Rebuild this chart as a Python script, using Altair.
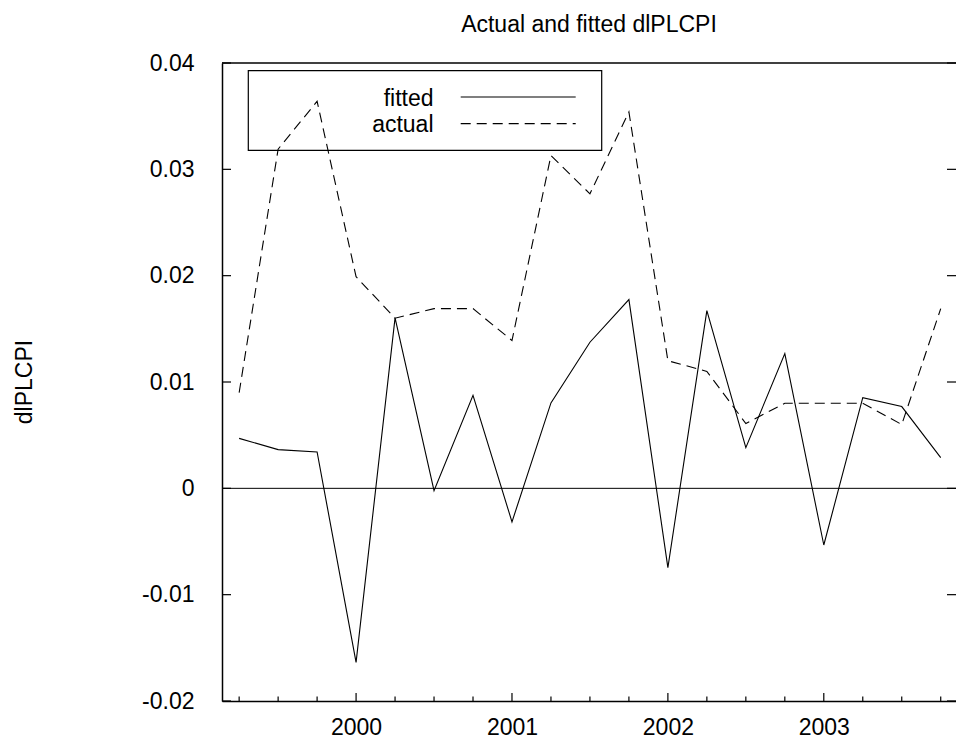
import altair as alt
import pandas as pd

# Quarterly sample 1999:2 - 2003:4, as decimal dates
periods = [1999.25, 1999.50, 1999.75,
           2000.00, 2000.25, 2000.50, 2000.75,
           2001.00, 2001.25, 2001.50, 2001.75,
           2002.00, 2002.25, 2002.50, 2002.75,
           2003.00, 2003.25, 2003.50, 2003.75]

fitted = [0.00470, 0.00364, 0.00342,
          -0.01637, 0.01603, -0.00022, 0.00875,
          -0.00316, 0.00803, 0.01374, 0.01775,
          -0.00746, 0.01672, 0.00383, 0.01267,
          -0.00533, 0.00853, 0.00769, 0.00289]

actual = [0.0090, 0.0319, 0.0364,
          0.0199, 0.0160, 0.0169, 0.0169,
          0.0139, 0.0313, 0.0277, 0.0354,
          0.0120, 0.0110, 0.0061, 0.0080,
          0.0080, 0.0080, 0.0060, 0.0169]

y_ticks = [-0.02, -0.01, 0.0, 0.01, 0.02, 0.03, 0.04]
year_ticks = [2000, 2001, 2002, 2003]
quarter_ticks = [1999.25, 1999.50, 1999.75,
                 2000.25, 2000.50, 2000.75,
                 2001.25, 2001.50, 2001.75,
                 2002.25, 2002.50, 2002.75,
                 2003.25, 2003.50, 2003.75]

W, H = 734, 638
FONT = "Liberation Sans"
FS = 23

fit_df = pd.DataFrame({"t": periods, "value": fitted})
act_df = pd.DataFrame({"t": periods, "value": actual})

x_scale = alt.Scale(domain=[1999.14, 2003.848], nice=False, zero=False)
y_scale = alt.Scale(domain=[-0.02, 0.04], nice=False, zero=False)

x_axis = alt.Axis(values=year_ticks, format="d", ticks=False, tickSize=0, grid=False,
                  labelPadding=15, domainColor="black", domainWidth=1.5,
                  labelFont=FONT, labelFontSize=FS, labelColor="black",
                  labelFlush=False, labelOverlap=False, labelBound=False)
y_axis = alt.Axis(values=y_ticks, ticks=False, tickSize=0, grid=False,
                  labelExpr="datum.value == 0 ? '0' : (datum.value < 0 ? '-' + format(-datum.value, '.2f') : format(datum.value, '.2f'))",
                  labelPadding=28, domainColor="black", domainWidth=1.5,
                  labelFont=FONT, labelFontSize=FS, labelColor="black",
                  labelFlush=False, labelOverlap=False, labelBound=False)


def xq(field):
    return alt.X(field, scale=x_scale, axis=x_axis, title=None)


def yq(field):
    return alt.Y(field, scale=y_scale, axis=y_axis, title=None)


# Series lines
fitted_line = alt.Chart(fit_df).mark_line(color="black", strokeWidth=1.1).encode(
    x=xq("t:Q"), y=yq("value:Q")
)
actual_line = alt.Chart(act_df).mark_line(color="black", strokeWidth=1.1, strokeDash=[10, 6]).encode(
    x=xq("t:Q"), y=yq("value:Q")
)

# Zero reference line
zero_line = alt.Chart(pd.DataFrame({"v": [0.0]})).mark_rule(color="black", strokeWidth=1).encode(
    y=yq("v:Q")
)

# Top frame edge
one = pd.DataFrame({"k": [0]})
top_edge = alt.Chart(one).mark_rule(color="black", strokeWidth=1.5).encode(
    x=alt.value(0), x2=alt.value(W), y=alt.value(0)
)

# Inward ticks: y on both sides, years and quarters along the bottom
ytick_df = pd.DataFrame({"v": y_ticks})
left_ticks = alt.Chart(ytick_df).mark_rule(color="black", strokeWidth=1.2).encode(
    y=yq("v:Q"), x=alt.value(0), x2=alt.value(9)
)
right_ticks = alt.Chart(ytick_df).mark_rule(color="black", strokeWidth=1.2).encode(
    y=yq("v:Q"), x=alt.value(W - 9), x2=alt.value(W)
)
major_ticks = alt.Chart(pd.DataFrame({"t": year_ticks})).mark_rule(color="black", strokeWidth=1.2).encode(
    x=xq("t:Q"), y=alt.value(H - 8), y2=alt.value(H)
)
minor_ticks = alt.Chart(pd.DataFrame({"t": quarter_ticks})).mark_rule(color="black", strokeWidth=1.2).encode(
    x=xq("t:Q"), y=alt.value(H - 4.5), y2=alt.value(H)
)

# Title and y-axis title
title = alt.Chart(one).mark_text(
    text="Actual and fitted dlPLCPI", font=FONT, fontSize=FS, color="black",
    align="center", baseline="alphabetic"
).encode(x=alt.value(W / 2), y=alt.value(-30.7))

y_title = alt.Chart(one).mark_text(
    text="dlPLCPI", font=FONT, fontSize=FS, color="black",
    align="center", baseline="alphabetic", angle=270
).encode(x=alt.value(-190.5), y=alt.value(H / 2))

# Legend box with labels on the left and line samples on the right
legend_box = alt.Chart(one).mark_rect(filled=False, stroke="black", strokeWidth=1.2).encode(
    x=alt.value(26.3), x2=alt.value(379.7), y=alt.value(7.6), y2=alt.value(87.3)
)
legend_fitted_txt = alt.Chart(one).mark_text(
    text="fitted", font=FONT, fontSize=FS, color="black", align="right", baseline="alphabetic"
).encode(x=alt.value(211.5), y=alt.value(43.4))
legend_actual_txt = alt.Chart(one).mark_text(
    text="actual", font=FONT, fontSize=FS, color="black", align="right", baseline="alphabetic"
).encode(x=alt.value(211.5), y=alt.value(69.0))
legend_fitted_line = alt.Chart(one).mark_rule(color="black", strokeWidth=1.1).encode(
    x=alt.value(238.7), x2=alt.value(353.7), y=alt.value(34.0)
)
legend_actual_line = alt.Chart(one).mark_rule(color="black", strokeWidth=1.1, strokeDash=[10, 6]).encode(
    x=alt.value(238.7), x2=alt.value(353.7), y=alt.value(60.6)
)

chart = alt.layer(
    fitted_line, actual_line, zero_line, top_edge,
    left_ticks, right_ticks, major_ticks, minor_ticks,
    title, y_title,
    legend_box, legend_fitted_txt, legend_actual_txt, legend_fitted_line, legend_actual_line,
).properties(
    width=W, height=H,
    padding={"left": 222, "top": 63, "right": 0, "bottom": 39},
    autosize=alt.AutoSizeParams(type="none"),
    background="white",
).configure_view(stroke=None)

chart.save("out.html", embed_options={"renderer": "svg", "actions": False})
